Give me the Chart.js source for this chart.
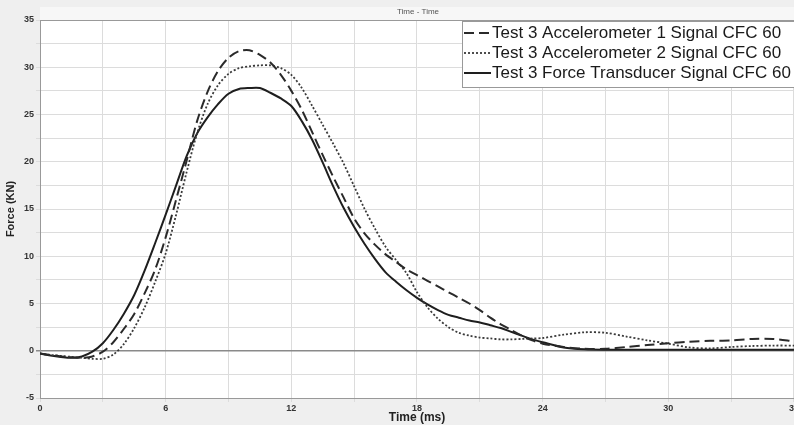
<!DOCTYPE html>
<html>
<head>
<meta charset="utf-8">
<script src="https://cdn.jsdelivr.net/npm/chart.js@4.4.0/dist/chart.umd.min.js"></script>
<style>
  html, body { margin: 0; padding: 0; overflow: hidden; background: #efefef; }
  #wrap { width: 800px; height: 425px; }
</style>
</head>
<body>
<div id="wrap"><canvas id="grafico" width="800" height="425"></canvas></div>
<script>
// tiempos (ms)
const tiempos = [0, 0.5, 1, 1.5, 2, 2.5, 3, 3.5, 4, 4.5, 5, 5.5, 6, 6.5, 7, 7.5, 8, 8.5, 9, 9.5,
  10, 10.5, 11, 11.5, 12, 12.5, 13, 13.5, 14, 14.5, 15, 15.5, 16, 16.5, 17, 17.5, 18, 18.5, 19, 19.5,
  20, 20.5, 21, 21.5, 22, 22.5, 23, 23.5, 24, 25, 26, 27, 28, 29, 30, 31, 32, 33, 34, 35, 36];

// fuerza (KN)
const acel1 = [-0.3, -0.45, -0.6, -0.7, -0.75, -0.6, -0.1, 0.9, 2.3, 3.9, 6.1, 8.6, 12.0, 16.0, 20.1, 24.3, 27.4, 29.6, 31.0, 31.7,
  31.8, 31.3, 30.5, 29.2, 27.5, 25.5, 23.1, 20.7, 18.4, 16.2, 14.0, 12.4, 11.2, 10.2, 9.4, 8.6, 8.0, 7.4, 6.8, 6.2,
  5.6, 5.0, 4.3, 3.5, 2.8, 2.2, 1.6, 1.1, 0.75, 0.4, 0.2, 0.2, 0.4, 0.6, 0.8, 0.95, 1.05, 1.1, 1.25, 1.25, 1.0];

const acel2 = [-0.3, -0.45, -0.55, -0.65, -0.75, -0.85, -0.85, -0.4, 0.7, 2.4, 4.6, 7.3, 10.3, 14.4, 18.9, 23.0, 26.1, 28.1, 29.3, 29.9,
  30.1, 30.2, 30.2, 29.9, 29.2, 27.8, 25.9, 23.9, 21.9, 19.8, 17.4, 15.0, 12.9, 11.0, 9.6, 8.2, 6.2, 4.6, 3.4, 2.5,
  1.9, 1.6, 1.4, 1.3, 1.2, 1.2, 1.25, 1.3, 1.35, 1.7, 1.95, 1.9, 1.5, 1.1, 0.75, 0.35, 0.25, 0.4, 0.5, 0.55, 0.55];

const transductor = [-0.3, -0.5, -0.65, -0.75, -0.6, -0.1, 0.8, 2.2, 3.9, 5.9, 8.5, 11.4, 14.4, 17.5, 20.6, 23.0, 24.7, 26.1, 27.2, 27.7,
  27.8, 27.8, 27.3, 26.7, 25.9, 24.3, 22.3, 19.9, 17.4, 15.1, 13.1, 11.3, 9.7, 8.3, 7.3, 6.4, 5.6, 4.9, 4.3, 3.8,
  3.5, 3.2, 3.0, 2.7, 2.4, 2.0, 1.6, 1.2, 0.9, 0.35, 0.15, 0.1, 0.1, 0.1, 0.1, 0.1, 0.1, 0.1, 0.1, 0.1, 0.1];

const etiquetas = [
  "Test 3 Accelerometer 1 Signal CFC 60",
  "Test 3 Accelerometer 2 Signal CFC 60",
  "Test 3 Force Transducer Signal CFC 60"
];

function puntos(valores) {
  return valores.map((v, i) => ({ x: tiempos[i], y: v }));
}

// fondo blanco del area de trazado, marco, titulo y leyenda
const decoracion = {
  id: "decoracion",
  beforeDraw(chart) {
    const { ctx, chartArea } = chart;
    ctx.save();
    ctx.fillStyle = "#ffffff";
    ctx.fillRect(chartArea.left, chartArea.top, chartArea.right - chartArea.left, chartArea.bottom - chartArea.top);
    ctx.fillStyle = "#f7f7f7";
    ctx.fillRect(chartArea.left, 7, chartArea.right - chartArea.left, chartArea.top - 7);
    ctx.fillStyle = "#555";
    ctx.font = "8px 'Liberation Sans'";
    ctx.textAlign = "center";
    ctx.textBaseline = "middle";
    ctx.fillText("Time - Time", 418, 12);
    ctx.restore();
  },
  afterDraw(chart) {
    const { ctx, chartArea } = chart;
    ctx.save();
    ctx.strokeStyle = "#999";
    ctx.lineWidth = 1;
    ctx.beginPath();
    ctx.moveTo(chartArea.left, chartArea.top + 0.5);
    ctx.lineTo(chartArea.right, chartArea.top + 0.5);
    ctx.stroke();

    // leyenda
    const x0 = 462, y0 = 21;
    ctx.fillStyle = "#ffffff";
    ctx.fillRect(x0, y0, 340, 66);
    ctx.strokeStyle = "#999";
    ctx.strokeRect(x0 + 0.5, y0 + 0.5, 340, 66);
    ctx.font = "17px 'Liberation Sans'";
    ctx.textBaseline = "middle";
    chart.data.datasets.forEach((ds, i) => {
      const y = 33 + i * 20;
      ctx.strokeStyle = ds.borderColor;
      ctx.lineWidth = ds.borderWidth;
      ctx.setLineDash(ds.borderDash || []);
      ctx.beginPath();
      ctx.moveTo(464, y);
      ctx.lineTo(491, y);
      ctx.stroke();
      ctx.setLineDash([]);
      ctx.fillStyle = "#1a1a1a";
      ctx.fillText(ds.label, 492, y);
    });
    ctx.restore();
  }
};

const ctx = document.getElementById("grafico").getContext("2d");

new Chart(ctx, {
  type: "line",
  data: {
    datasets: [{
      label: etiquetas[0],
      data: puntos(acel1),
      borderColor: "#2a2a2a",
      borderWidth: 2,
      borderDash: [10, 5],
      pointRadius: 0,
      tension: 0.3
    }, {
      label: etiquetas[1],
      data: puntos(acel2),
      borderColor: "#3a3a3a",
      borderWidth: 1.8,
      borderDash: [2, 2],
      pointRadius: 0,
      tension: 0.3
    }, {
      label: etiquetas[2],
      data: puntos(transductor),
      borderColor: "#1e1e1e",
      borderWidth: 2,
      pointRadius: 0,
      tension: 0.3
    }]
  },
  options: {
    responsive: false,
    animation: false,
    layout: { padding: { top: 20, left: 0, right: 0, bottom: 0 } },
    plugins: {
      legend: { display: false },
      tooltip: { enabled: false }
    },
    scales: {
      x: {
        type: "linear",
        min: 0,
        max: 36,
        afterFit: (scale) => { scale.height = 27; },
        ticks: {
          stepSize: 3,
          autoSkip: false,
          maxRotation: 0,
          padding: 1,
          color: "#333",
          font: { size: 9, weight: "bold", family: "'Liberation Sans'" },
          callback: (v) => (v % 6 === 0 ? String(v) : "")
        },
        grid: {
          color: "#dcdcdc",
          tickLength: 4
        },
        border: { color: "#999" },
        title: {
          display: true,
          text: "Time (ms)",
          color: "#222",
          padding: 0,
          font: { size: 12, weight: "bold", family: "'Liberation Sans'" }
        }
      },
      y: {
        min: -5,
        max: 35,
        afterFit: (scale) => { scale.width = 40; },
        ticks: {
          stepSize: 2.5,
          autoSkip: false,
          padding: 2,
          color: "#333",
          font: { size: 9, weight: "bold", family: "'Liberation Sans'" },
          callback: (v) => (v % 5 === 0 ? String(v) : "")
        },
        grid: {
          color: (c) => (c.tick && c.tick.value === 0 ? "#8a8a8a" : "#dcdcdc"),
          lineWidth: (c) => (c.tick && c.tick.value === 0 ? 1.5 : 1),
          tickLength: 4
        },
        border: { color: "#999" },
        title: {
          display: true,
          text: "Force (KN)",
          color: "#222",
          padding: { top: 4, bottom: 0 },
          font: { size: 11, weight: "bold", family: "'Liberation Sans'" }
        }
      }
    }
  },
  plugins: [decoracion]
});
</script>
</body>
</html>
